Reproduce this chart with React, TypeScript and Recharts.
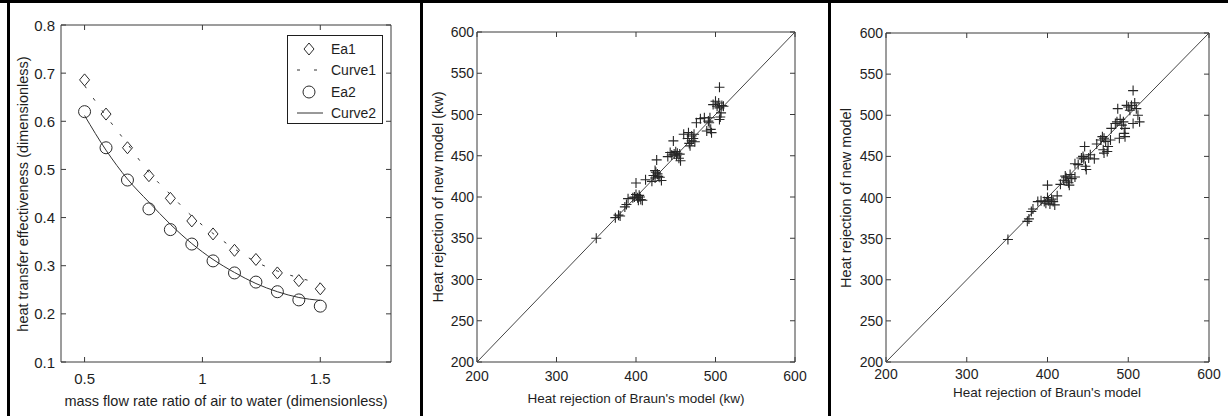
import React from 'react';
import { ComposedChart, Scatter, Line, XAxis, YAxis, ReferenceLine, Legend } from 'recharts';

// ─── Styling ─────────────────────────────────────────────────────────────────
const FONT = '"Liberation Sans", Arial, Helvetica, sans-serif';
const INK = '#1e1e1e';
const AXIS = '#3a3a3a';

// ─── Panel 1: effectiveness vs mass flow rate ratio ─────────────────────────
const massRatio = [0.5, 0.591, 0.682, 0.773, 0.864, 0.955, 1.045, 1.136, 1.227, 1.318, 1.409, 1.5];
const ea1 = [0.686, 0.615, 0.545, 0.487, 0.44, 0.393, 0.366, 0.332, 0.313, 0.285, 0.269, 0.252];
const ea2 = [0.62, 0.545, 0.478, 0.418, 0.375, 0.345, 0.31, 0.285, 0.266, 0.246, 0.229, 0.216];
const curve1 = [0.674, 0.611, 0.553, 0.494, 0.448, 0.403, 0.367, 0.335, 0.308, 0.289, 0.275, 0.263];
const curve2 = [0.612, 0.54, 0.48, 0.432, 0.386, 0.346, 0.313, 0.286, 0.263, 0.246, 0.234, 0.228];
const ratioTicks = [0.5, 1, 1.5];
const effTicks = [0.1, 0.2, 0.3, 0.4, 0.5, 0.6, 0.7, 0.8];

// ─── Panel 2: heat rejection (kw) ────────────────────────────────────────────
const braunKw = [
  350, 374, 378, 380, 386, 388, 390,
  396, 398, 400, 400, 402, 403, 404, 405, 406, 408,
  412, 420, 422, 424, 424, 425, 426, 427, 428, 430, 432,
  440, 443, 445, 447, 448, 450, 451, 452, 454, 455, 456,
  460, 465, 466, 467, 468, 470, 470, 472, 473, 474,
  476, 481, 486, 489, 491, 492, 493, 494, 495,
  497, 500, 502, 504, 505, 505, 505, 506, 507, 508, 510,
];
const newKw = [
  350, 375, 378, 377, 388, 391, 398,
  399, 400, 417, 403, 399, 396, 402, 400, 397, 396,
  421, 419, 426, 423, 432, 430, 445, 428, 425, 424, 420,
  449, 454, 451, 468, 452, 455, 450, 453, 447, 452, 444,
  476, 471, 478, 465, 462, 474, 468, 471, 476, 467,
  490, 495, 496, 480, 492, 490, 496, 482, 478,
  512, 516, 510, 514, 533, 508, 494, 497, 502, 511, 510,
];

// ─── Panel 3: heat rejection ─────────────────────────────────────────────────
const braunModel = [
  351, 375, 377, 380, 382, 388, 392,
  396, 398, 400, 400, 401, 403, 405, 407, 409, 412,
  416, 420, 422, 423, 424, 426, 427, 428, 430, 434,
  434, 438, 442, 444, 445, 446, 447, 448, 451, 453, 458,
  461, 466, 468, 469, 470, 470, 472, 474, 475, 478,
  479, 484, 486, 487, 489, 490, 492, 494, 495, 496, 496,
  498, 500, 502, 504, 506, 506, 508, 510, 512, 514,
];
const newModel = [
  349, 371, 374, 383, 386, 395, 396,
  395, 393, 415, 400, 396, 392, 398, 395, 391, 402,
  416, 421, 426, 424, 420, 418, 415, 428, 423, 425,
  441, 440, 448, 450, 447, 462, 438, 434, 448, 452, 447,
  465, 470, 474, 458, 454, 472, 468, 456, 462, 470,
  484, 490, 492, 508, 472, 495, 488, 492, 478, 474, 484,
  512, 510, 506, 512, 530, 490, 515, 508, 500, 492,
];

const heatXTicks = [200, 300, 400, 500, 600];
const heatYTicks = [200, 250, 300, 350, 400, 450, 500, 550, 600];
const diagonal = [200, 600];

// ─── Tables for the library ─────────────────────────────────────────────────
const effData = massRatio.map((x, i) => ({ x, ea1: ea1[i], ea2: ea2[i], c1: curve1[i], c2: curve2[i] }));
const kwPoints = braunKw.map((x, i) => ({ x, y: newKw[i] }));
const modelPoints = braunModel.map((x, i) => ({ x, y: newModel[i] }));
const diagData = diagonal.map((v) => ({ x: v, y: v }));

// ─── Ticks (inward, matlab style) ────────────────────────────────────────────
const BottomTick = ({ x, y, payload, fs, off }: any) => (
  <g>
    <line x1={x} x2={x} y1={y} y2={y - 5} stroke={AXIS} />
    <text x={x} y={y + off} textAnchor="middle" dominantBaseline="central" fontSize={fs} fill={INK} fontFamily={FONT}>
      {String(payload.value)}
    </text>
  </g>
);
const LeftTick = ({ x, y, payload, fs, off }: any) => (
  <g>
    <line x1={x} x2={x + 5} y1={y} y2={y} stroke={AXIS} />
    <text x={x - off} y={y} textAnchor="end" dominantBaseline="central" fontSize={fs} fill={INK} fontFamily={FONT}>
      {String(payload.value)}
    </text>
  </g>
);
const TopTick = ({ x, y }: any) => <line x1={x} x2={x} y1={y} y2={y + 5} stroke={AXIS} />;
const RightTick = ({ x, y }: any) => <line x1={x} x2={x - 5} y1={y} y2={y} stroke={AXIS} />;

const AxisTitle = ({ tx, ty, text, fs, vertical }: any) => (
  <text
    x={tx}
    y={ty}
    textAnchor="middle"
    dominantBaseline="central"
    fontSize={fs}
    fill={INK}
    fontFamily={FONT}
    transform={vertical ? `rotate(-90 ${tx} ${ty})` : undefined}
  >
    {text}
  </text>
);

// ─── Markers ─────────────────────────────────────────────────────────────────
const Diamond = ({ cx, cy }: any) => (
  <path d={`M${cx},${cy - 6}L${cx + 5},${cy}L${cx},${cy + 6}L${cx - 5},${cy}Z`} fill="none" stroke="#2a2a2a" strokeWidth={1} />
);
const Ring = ({ cx, cy }: any) => <circle cx={cx} cy={cy} r={6} fill="none" stroke="#2a2a2a" strokeWidth={1} />;
const Plus = ({ cx, cy }: any) => (
  <path d={`M${cx - 5},${cy}H${cx + 5}M${cx},${cy - 5}V${cy + 5}`} stroke="#262626" strokeWidth={1.1} />
);

// ─── Legend for panel 1 ──────────────────────────────────────────────────────
const legendItems = [
  { name: 'Ea1', kind: 'diamond' },
  { name: 'Curve1', kind: 'dash' },
  { name: 'Ea2', kind: 'ring' },
  { name: 'Curve2', kind: 'line' },
];

function EffLegend() {
  return (
    <div
      style={{
        width: 96,
        height: 89,
        border: `1px solid ${INK}`,
        background: '#fff',
        boxSizing: 'border-box',
        paddingTop: 2,
        fontFamily: FONT,
        fontSize: 14,
        color: INK,
      }}
    >
      {legendItems.map((it) => (
        <div key={it.name} style={{ display: 'flex', alignItems: 'center', height: 21.5 }}>
          <svg width={42} height={20} style={{ flex: 'none' }}>
            {it.kind === 'diamond' && <Diamond cx={21} cy={10} />}
            {it.kind === 'ring' && <Ring cx={21} cy={10} />}
            {it.kind === 'dash' && <line x1={9} x2={35} y1={10} y2={10} stroke="#333" strokeDasharray="3 14" />}
            {it.kind === 'line' && <line x1={9} x2={35} y1={10} y2={10} stroke="#333" />}
          </svg>
          <span style={{ marginLeft: 1 }}>{it.name}</span>
        </div>
      ))}
    </div>
  );
}

// ─── Shared axis frame (axes are 1px thick so recharts draws them) ──────────
function frameAxes(xDomain: number[], xTicks: number[], yDomain: number[], yTicks: number[], fs: number, xOff: number, yOff: number) {
  return [
    <XAxis key="xb" xAxisId="b" dataKey="x" type="number" domain={xDomain} ticks={xTicks} interval={0} allowDataOverflow
      height={1} tickSize={0} tickMargin={0} tickLine={false} axisLine={{ stroke: AXIS }}
      tick={(p: any) => <BottomTick {...p} fs={fs} off={xOff} />} />,
    <XAxis key="xt" xAxisId="t" orientation="top" dataKey="x" type="number" domain={xDomain} ticks={xTicks} interval={0} allowDataOverflow
      height={1} tickSize={0} tickMargin={0} tickLine={false} axisLine={{ stroke: AXIS }}
      tick={(p: any) => <TopTick {...p} />} />,
    <YAxis key="yl" yAxisId="l" type="number" domain={yDomain} ticks={yTicks} interval={0} allowDataOverflow
      width={1} tickSize={0} tickMargin={0} tickLine={false} axisLine={{ stroke: AXIS }}
      tick={(p: any) => <LeftTick {...p} fs={fs} off={yOff} />} />,
    <YAxis key="yr" yAxisId="r" orientation="right" type="number" domain={yDomain} ticks={yTicks} interval={0} allowDataOverflow
      width={1} tickSize={0} tickMargin={0} tickLine={false} axisLine={{ stroke: AXIS }}
      tick={(p: any) => <RightTick {...p} />} />,
  ];
}

function EffectivenessChart() {
  return (
    <ComposedChart width={410} height={416} data={effData} margin={{ top: 24, right: 18, bottom: 53, left: 60 }}>
      {frameAxes([0.4, 1.8], ratioTicks, [0.1, 0.8], effTicks, 15, 16, 6)}
      <ReferenceLine xAxisId="b" yAxisId="l" y={0.1} stroke="none"
        label={<AxisTitle tx={226} ty={401} fs={14.5} text="mass flow rate ratio of air to water (dimensionless)" />} />
      <ReferenceLine xAxisId="b" yAxisId="l" x={0.4} stroke="none"
        label={<AxisTitle tx={23} ty={194} fs={14.5} vertical text="heat transfer effectiveness (dimensionless)" />} />
      <Line xAxisId="b" yAxisId="l" name="Curve1" dataKey="c1" type="monotone" stroke="#333" strokeWidth={1}
        strokeDasharray="3 12" dot={false} activeDot={false} isAnimationActive={false} />
      <Line xAxisId="b" yAxisId="l" name="Curve2" dataKey="c2" type="monotone" stroke="#333" strokeWidth={1}
        dot={false} activeDot={false} isAnimationActive={false} />
      <Scatter xAxisId="b" yAxisId="l" name="Ea1" dataKey="ea1" shape={(p: any) => <Diamond cx={p.cx} cy={p.cy} />} isAnimationActive={false} />
      <Scatter xAxisId="b" yAxisId="l" name="Ea2" dataKey="ea2" shape={(p: any) => <Ring cx={p.cx} cy={p.cy} />} isAnimationActive={false} />
      <Legend layout="vertical" align="center" verticalAlign="middle" content={<EffLegend />}
        wrapperStyle={{ left: 287, top: 35, width: 96, height: 89 }} />
    </ComposedChart>
  );
}

function HeatChart({ points, margin, xTitle, yTitle, xTitleAt, yTitleAt, tickOff }: any) {
  return (
    <ComposedChart width={410} height={416} margin={margin}>
      {frameAxes([200, 600], heatXTicks, [200, 600], heatYTicks, 14, tickOff, 3)}
      <ReferenceLine xAxisId="b" yAxisId="l" y={200} stroke="none"
        label={<AxisTitle tx={xTitleAt[0]} ty={xTitleAt[1]} fs={13.5} text={xTitle} />} />
      <ReferenceLine xAxisId="b" yAxisId="l" x={200} stroke="none"
        label={<AxisTitle tx={yTitleAt[0]} ty={yTitleAt[1]} fs={14.5} vertical text={yTitle} />} />
      <Line xAxisId="b" yAxisId="l" data={diagData} dataKey="y" type="linear" stroke="#444" strokeWidth={1}
        dot={false} activeDot={false} isAnimationActive={false} />
      <Scatter xAxisId="b" yAxisId="l" data={points} dataKey="y" shape={(p: any) => <Plus cx={p.cx} cy={p.cy} />} isAnimationActive={false} />
    </ComposedChart>
  );
}

const Bar = ({ x, y, w, h }: any) => (
  <div style={{ position: 'absolute', left: x, top: y, width: w, height: h, background: '#000' }} />
);

export default function App() {
  return (
    <div style={{ position: 'absolute', left: 0, top: 0, width: 1228, height: 416, background: '#fff', overflow: 'hidden' }}>
      <div style={{ position: 'absolute', left: 0, top: 0 }}>
        <EffectivenessChart />
      </div>
      <div style={{ position: 'absolute', left: 410, top: 0 }}>
        <HeatChart
          points={kwPoints}
          margin={{ top: 31, right: 24, bottom: 53, left: 66 }}
          xTitle="Heat rejection of Braun's model (kw)"
          yTitle="Heat rejection of new model (kw)"
          xTitleAt={[226, 398]}
          yTitleAt={[28, 197]}
          tickOff={14}
        />
      </div>
      <div style={{ position: 'absolute', left: 818, top: 0 }}>
        <HeatChart
          points={modelPoints}
          margin={{ top: 32, right: 18, bottom: 53, left: 67 }}
          xTitle="Heat rejection of Braun's model"
          yTitle="Heat rejection of new model"
          xTitleAt={[229, 392]}
          yTitleAt={[28, 198]}
          tickOff={12}
        />
      </div>
      {/* page frame */}
      <Bar x={0} y={0} w={1228} h={3} />
      <Bar x={7} y={0} w={3} h={416} />
      <Bar x={420} y={0} w={3} h={416} />
      <Bar x={828} y={0} w={3} h={416} />
    </div>
  );
}
